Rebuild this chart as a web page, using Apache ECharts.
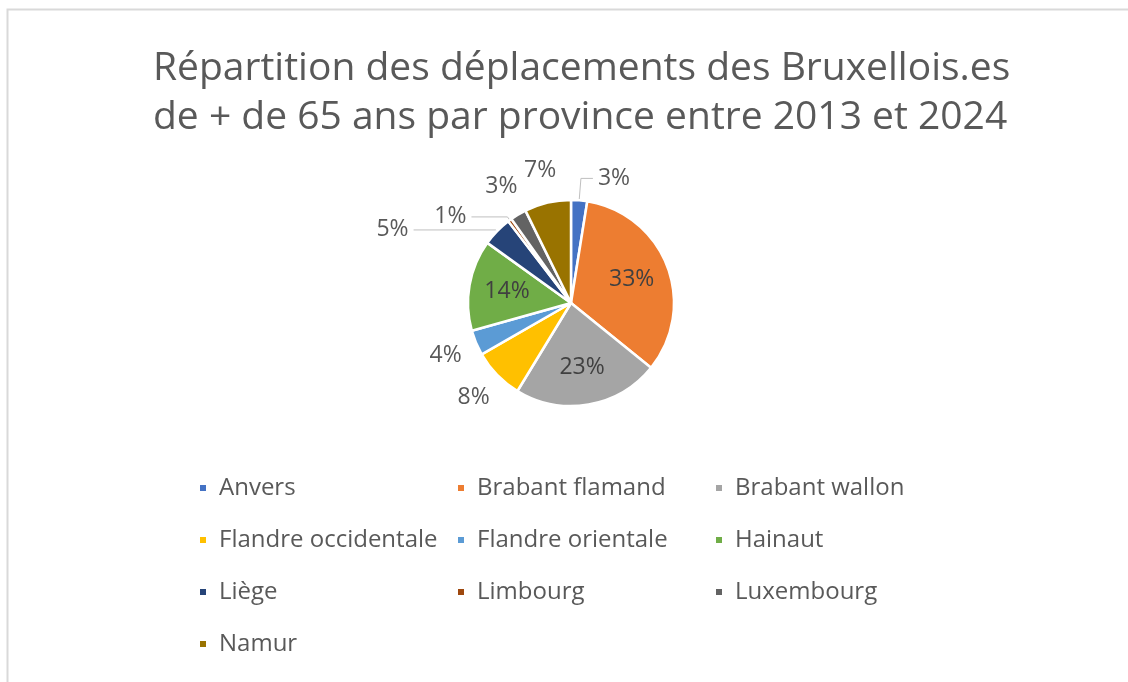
<!DOCTYPE html>
<html>
<head>
<meta charset="utf-8">
<script src="https://cdn.jsdelivr.net/npm/echarts@6/dist/echarts.min.js"></script>
<style>
  html, body { margin: 0; padding: 0; background: #fff; }
  #chart { width: 1128px; height: 682px; }
</style>
</head>
<body>
<div id="chart"></div>
<script>
var titleText = "Répartition des déplacements des Bruxellois.es\nde + de 65 ans par province entre 2013 et 2024";

// provinces, dans l'ordre d'Excel (sens horaire depuis midi)
var provinces = ["Anvers", "Brabant flamand", "Brabant wallon", "Flandre occidentale",
    "Flandre orientale", "Hainaut", "Liège", "Limbourg", "Luxembourg", "Namur"];
// parts estimées (en %)
var shares = [2.5, 32.9, 22.6, 7.9, 3.9, 14.1, 4.6, 0.6, 2.5, 7.2];
var colors = ["#4472C4", "#ED7D31", "#A5A5A5", "#FFC000", "#5B9BD5",
    "#70AD47", "#264478", "#9E480E", "#636363", "#997300"];

var insideLabels = ["Brabant flamand", "Brabant wallon", "Hainaut"];
// étiquettes avec trait de rappel : [longueur radiale, longueur horizontale]
var leaderLines = {
    "Anvers": [22, 12],
    "Liège": [2, 82],
    "Limbourg": [4, 36]
};

var font = "'Open Sans', sans-serif";
var cx = 571, cy = 303, radius = 103;
var total = shares.reduce(function (a, b) { return a + b; }, 0);

// angle médian de chaque part (radians, horaire depuis midi)
var midAngles = [];
(function () {
    var acc = 0;
    for (var i = 0; i < shares.length; i++) {
        midAngles.push((acc + shares[i] / 2) / total * 2 * Math.PI);
        acc += shares[i];
    }
})();

var chart;

window.onload = function () {
    chart = echarts.init(document.getElementById("chart"), null, { renderer: 'canvas' });

    var data = provinces.map(function (name, i) {
        var item = { name: name, value: shares[i], itemStyle: { color: colors[i] } };
        if (insideLabels.indexOf(name) != -1) {
            item.label = { position: 'inside', color: '#404040' };
            item.labelLine = { show: false };
        } else if (leaderLines[name]) {
            item.labelLine = { show: true, length: leaderLines[name][0], length2: leaderLines[name][1] };
        } else {
            item.labelLine = { show: false };
        }
        return item;
    });

    var option = {
        backgroundColor: '#fff',
        animation: false,
        color: colors,
        title: {
            text: titleText,
            left: 153,
            top: 44,
            padding: 0,
            textAlign: 'left',
            textStyle: {
                fontFamily: font,
                fontSize: 39,
                fontWeight: 'normal',
                color: '#595959',
                lineHeight: 49
            }
        },
        legend: {
            left: 193,
            top: 457,
            width: 800,
            itemWidth: 8,
            itemHeight: 8,
            itemGap: 0,
            icon: 'rect',
            data: provinces,
            textStyle: {
                fontFamily: font,
                fontSize: 24,
                color: '#595959',
                width: 237,
                padding: [0, 0, 0, 7],
                lineHeight: 52
            }
        },
        series: [{
            type: 'pie',
            center: [cx, cy],
            radius: radius,
            startAngle: 90,
            clockwise: true,
            avoidLabelOverlap: false,
            itemStyle: { borderColor: '#fff', borderWidth: 2.5 },
            label: {
                show: true,
                fontFamily: font,
                fontSize: 23,
                color: '#595959',
                formatter: function (p) {
                    return Math.round(p.value / total * 100) + '%';
                }
            },
            labelLine: {
                show: true,
                length: 8,
                length2: 14,
                lineStyle: { color: '#bfbfbf', width: 1 }
            },
            // étiquettes sans trait : centrées sur l'angle médian (intérieur ou extérieur)
            labelLayout: function (p) {
                var name = provinces[p.dataIndex];
                if (leaderLines[name]) return {};
                var a = midAngles[p.dataIndex];
                var d = insideLabels.indexOf(name) != -1 ? 65 : radius + 33;
                return {
                    x: cx + d * Math.sin(a),
                    y: cy - d * Math.cos(a),
                    align: 'center',
                    verticalAlign: 'middle'
                };
            },
            data: data
        }],
        graphic: [{
            type: 'rect',
            silent: true,
            shape: { x: 7.5, y: 9.5, width: 1140, height: 700 },
            style: { fill: 'none', stroke: '#d9d9d9', lineWidth: 2 }
        }]
    };
    chart.setOption(option);
};
</script>
</body>
</html>
